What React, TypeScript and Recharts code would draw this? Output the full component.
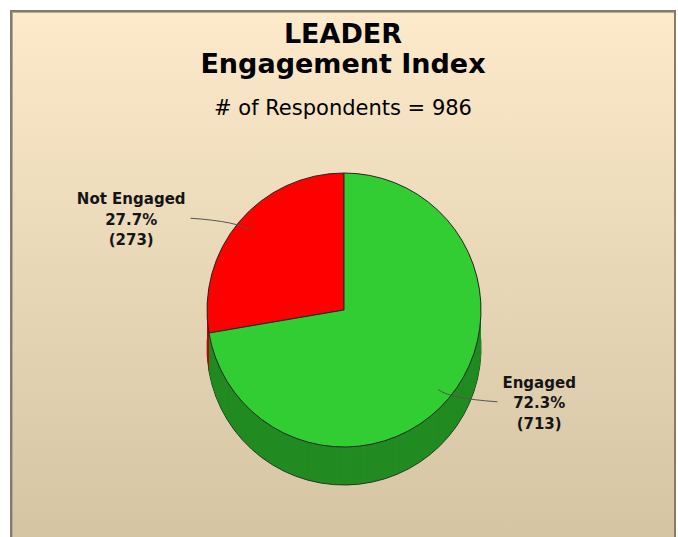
import React from 'react'
import { PieChart, Pie, Cell } from 'recharts'

const categories = ['Not Engaged', 'Engaged']
const respondents = [273, 713]
const topColors = ['#FF0000', '#32CD32']
const sideColors = ['#C80000', '#228B22']

const TOTAL = respondents.reduce((a, b) => a + b, 0)
const data = categories.map((name, i) => ({ name, value: respondents[i] }))

const W = 678
const H = 537
const CX = 344
const CY = 310
const R = 137
const DEPTH = 38
const LABEL_FONT = 'bold 15px "DejaVu Sans"'

// offsets of the side layers, deepest first so the upper ones paint over
const layers = Array.from({ length: DEPTH }, (_, i) => DEPTH - i)

let ctx: CanvasRenderingContext2D | null = null
const measure = (s: string) => {
  if (!ctx) ctx = document.createElement('canvas').getContext('2d')
  if (!ctx) return s.length * 9.9
  ctx.font = LABEL_FONT
  return ctx.measureText(s).width
}

const renderLabel = (props: any) => {
  const { cx, cy, midAngle, outerRadius, name, value } = props
  const rad = Math.PI / 180
  const cos = Math.cos(-midAngle * rad)
  const sin = Math.sin(-midAngle * rad)
  const sx = cx + outerRadius * 0.9 * cos
  const sy = cy + outerRadius * 0.9 * sin
  const qx = cx + outerRadius * 1.0 * cos
  const qy = cy + outerRadius * 1.0 * sin
  const sgnX = cos < 0 ? -1 : 1
  const sgnY = sin < 0 ? -1 : 1
  const ex = cx + sgnX * outerRadius * 1.12
  const ey = cy + sgnY * outerRadius * 0.67
  const lines = [name, `${((value / TOTAL) * 100).toFixed(1)}%`, `(${value})`]
  const w = Math.max(...lines.map(measure))
  const tx = ex + sgnX * (w / 2 + 5)
  const offs = [-14, 6.5, 27]
  return (
    <g>
      <path d={`M${sx},${sy} Q${qx},${qy} ${ex},${ey}`} stroke="#555" strokeWidth={1} fill="none" />
      <text textAnchor="middle" fontFamily="DejaVu Sans" fontWeight="bold" fontSize={15} fill="#151515">
        {lines.map((l, i) => (
          <tspan key={i} x={tx} y={ey + offs[i]}>{l}</tspan>
        ))}
      </text>
    </g>
  )
}

export default function App() {
  return (
    <div style={{ position: 'absolute', left: 0, top: 0, width: W, height: H, overflow: 'hidden', background: '#fff' }}>
      <div
        style={{
          position: 'absolute', left: 10, top: 10, width: 662, height: 560,
          border: '2px solid #857b6b', boxShadow: 'inset 1px 1px 0 #b3a892',
          background: 'linear-gradient(#FCEACB, #D2C2A0)',
        }}
      />
      <PieChart width={W} height={H} margin={{ top: 0, right: 0, bottom: 0, left: 0 }} style={{ position: 'absolute', left: 0, top: 0 }}>
        {layers.map((off) => (
          <Pie
            key={`side-${off}`}
            data={data}
            dataKey="value"
            cx={CX}
            cy={CY + off}
            outerRadius={R}
            startAngle={90}
            endAngle={450}
            isAnimationActive={false}
            stroke={off === DEPTH ? '#1e3a1e' : 'none'}
            strokeWidth={1}
          >
            {data.map((d, i) => (
              <Cell key={d.name} fill={sideColors[i]} />
            ))}
          </Pie>
        ))}
        <Pie
          data={data}
          dataKey="value"
          cx={CX}
          cy={CY}
          outerRadius={R}
          startAngle={90}
          endAngle={450}
          isAnimationActive={false}
          stroke="#262626"
          strokeWidth={1}
          label={renderLabel}
          labelLine={false}
        >
          {data.map((d, i) => (
            <Cell key={d.name} fill={topColors[i]} />
          ))}
        </Pie>
      </PieChart>
      <svg width={W} height={H} style={{ position: 'absolute', left: 0, top: 0, pointerEvents: 'none' }}>
        <text textAnchor="middle" fontFamily="DejaVu Sans" fontWeight="bold" fontSize={27} fill="#000">
          <tspan x={343} y={43}>LEADER</tspan>
          <tspan x={343} y={73}>Engagement Index</tspan>
        </text>
        <text x={343} y={115} textAnchor="middle" fontFamily="DejaVu Sans" fontSize={21} fill="#000"># of Respondents = 986</text>
      </svg>
    </div>
  )
}
